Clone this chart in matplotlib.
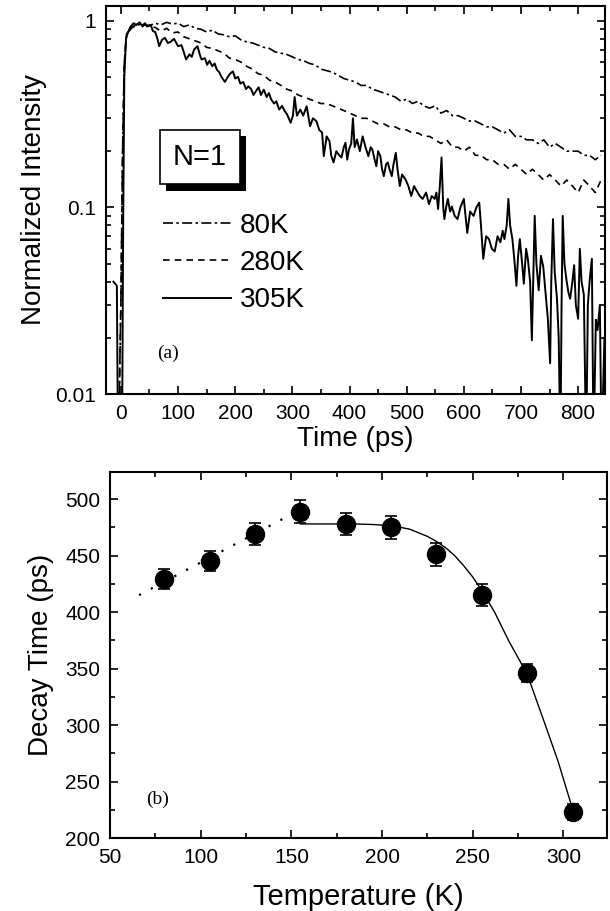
import numpy as np
import matplotlib
matplotlib.use("Agg")
import matplotlib.pyplot as plt
from matplotlib import patheffects
from matplotlib.ticker import MultipleLocator, LogLocator, FixedFormatter, FixedLocator, NullFormatter

plt.rcParams['font.family'] = ['Liberation Sans', 'DejaVu Sans']

# ---- panel (a): time resolved PL, N=1 ----
t_cold = [-20, -10, -4, 0, 3, 6, 10, 20, 30, 40, 50, 60, 70, 80, 90, 100, 110, 120, 130, 140,
          150, 160, 170, 180, 190, 200, 210, 220, 230, 240, 250, 260, 270, 280, 290, 300, 310,
          320, 330, 340, 350, 360, 370, 380, 390, 400, 410, 420, 430, 440, 450, 460, 470, 480,
          490, 500, 510, 520, 530, 540, 550, 560, 570, 580, 590, 600, 610, 620, 630, 640, 650,
          660, 670, 680, 690, 700, 710, 720, 730, 740, 750, 760, 770, 780, 790, 800, 810, 820,
          830, 840]
i_80K = [0.003, 0.004, 0.006, 0.03, 0.2, 0.6, 0.85, 0.92, 0.95, 0.96, 0.94, 0.97, 0.95, 0.98,
         0.96, 0.97, 0.93, 0.95, 0.91, 0.90, 0.87, 0.89, 0.85, 0.84, 0.82, 0.83, 0.79, 0.77,
         0.76, 0.74, 0.72, 0.71, 0.68, 0.67, 0.66, 0.64, 0.62, 0.61, 0.59, 0.58, 0.55, 0.54,
         0.53, 0.51, 0.49, 0.48, 0.47, 0.45, 0.45, 0.43, 0.42, 0.41, 0.40, 0.39, 0.37, 0.38,
         0.36, 0.37, 0.35, 0.34, 0.35, 0.32, 0.33, 0.31, 0.31, 0.30, 0.29, 0.29, 0.28, 0.27,
         0.27, 0.26, 0.25, 0.26, 0.24, 0.24, 0.23, 0.23, 0.22, 0.23, 0.21, 0.22, 0.21, 0.20,
         0.20, 0.20, 0.19, 0.19, 0.18, 0.19]
i_280K = [0.003, 0.004, 0.006, 0.03, 0.2, 0.6, 0.85, 0.93, 0.96, 0.95, 0.93, 0.92, 0.88, 0.91,
          0.86, 0.87, 0.82, 0.80, 0.78, 0.76, 0.72, 0.71, 0.69, 0.67, 0.63, 0.62, 0.60, 0.57,
          0.55, 0.52, 0.51, 0.48, 0.47, 0.45, 0.43, 0.42, 0.40, 0.39, 0.38, 0.37, 0.36, 0.36,
          0.35, 0.34, 0.33, 0.32, 0.31, 0.30, 0.30, 0.29, 0.28, 0.28, 0.27, 0.27, 0.26, 0.26,
          0.25, 0.25, 0.24, 0.24, 0.23, 0.22, 0.23, 0.21, 0.21, 0.20, 0.21, 0.19, 0.19, 0.18,
          0.18, 0.17, 0.17, 0.16, 0.17, 0.16, 0.15, 0.16, 0.15, 0.14, 0.15, 0.14, 0.13, 0.14,
          0.13, 0.12, 0.14, 0.13, 0.12, 0.14]

t_305K = [-13, -7, -5, 2, 4, 6, 9, 12, 17, 22, 27, 33, 38, 42, 46, 52, 56, 60, 64, 67, 72, 77,
          82, 87, 93, 100, 106, 110, 114, 120, 124, 128, 134, 138, 141, 147, 151, 155, 160, 164,
          168, 172, 176, 182, 187, 191, 196, 200, 205, 209, 214, 219, 223, 228, 232, 236, 241,
          245, 250, 255, 259, 263, 268, 272, 277, 282, 286, 291, 297, 301, 304, 308, 314, 319,
          325, 331, 336, 342, 347, 352, 355, 360, 365, 368, 372, 377, 382, 386, 390, 393, 396,
          399, 403, 406, 409, 413, 418, 423, 428, 433, 437, 440, 444, 447, 450, 454, 457, 460,
          464, 467, 470, 474, 477, 481, 484, 488, 492, 498, 503, 508, 513, 518, 523, 528, 534,
          539, 544, 549, 552, 555, 558, 561, 564, 566, 569, 572, 576, 579, 584, 589, 594, 600,
          603, 606, 611, 617, 622, 627, 630, 634, 639, 644, 649, 654, 659, 664, 668, 671, 675,
          678, 681, 685, 689, 692, 695, 698, 702, 705, 709, 712, 716, 719, 722, 724, 727, 731,
          735, 739, 743, 747, 751, 753, 756, 759, 763, 766, 769, 771, 773, 776, 780, 783, 786,
          790, 793, 796, 800, 803, 806, 810, 814, 817, 820, 824, 827, 831, 834, 838, 841, 846]
i_305K = [0.040, 0.038, 0.005, 0.005, 0.08, 0.5, 0.8, 0.86, 0.93, 0.97, 0.95, 0.98, 0.93, 0.97,
          0.93, 0.95, 0.88, 0.87, 0.80, 0.73, 0.79, 0.81, 0.76, 0.77, 0.80, 0.73, 0.74, 0.68,
          0.62, 0.66, 0.64, 0.70, 0.73, 0.66, 0.62, 0.63, 0.58, 0.61, 0.57, 0.59, 0.546, 0.53,
          0.50, 0.47, 0.50, 0.52, 0.535, 0.49, 0.50, 0.46, 0.47, 0.43, 0.445, 0.43, 0.40, 0.418,
          0.44, 0.40, 0.427, 0.39, 0.41, 0.378, 0.36, 0.37, 0.334, 0.35, 0.33, 0.314, 0.284,
          0.31, 0.39, 0.31, 0.334, 0.31, 0.348, 0.272, 0.30, 0.29, 0.26, 0.252, 0.188, 0.24,
          0.226, 0.19, 0.174, 0.20, 0.19, 0.185, 0.21, 0.222, 0.18, 0.204, 0.22, 0.30, 0.21,
          0.231, 0.20, 0.24, 0.21, 0.188, 0.21, 0.204, 0.18, 0.166, 0.20, 0.188, 0.16, 0.147,
          0.17, 0.174, 0.16, 0.147, 0.17, 0.196, 0.16, 0.13, 0.15, 0.141, 0.13, 0.115, 0.13,
          0.122, 0.115, 0.111, 0.12, 0.104, 0.115, 0.111, 0.12, 0.098, 0.13, 0.185, 0.10,
          0.0865, 0.10, 0.111, 0.095, 0.101, 0.09, 0.0865, 0.10, 0.111, 0.09, 0.073, 0.095,
          0.09, 0.10, 0.106, 0.08, 0.053, 0.07, 0.0676, 0.06, 0.058, 0.07, 0.065, 0.075, 0.0676,
          0.08, 0.111, 0.08, 0.0676, 0.05, 0.038, 0.055, 0.0676, 0.05, 0.039, 0.06, 0.053, 0.04,
          0.0194, 0.05, 0.09, 0.05, 0.036, 0.055, 0.048, 0.035, 0.0253, 0.0146, 0.04, 0.0865,
          0.045, 0.0324, 0.02, 0.005, 0.03, 0.09, 0.05, 0.04, 0.035, 0.0324, 0.04, 0.049, 0.03,
          0.0253, 0.06, 0.04, 0.034, 0.005, 0.03, 0.04, 0.053, 0.005, 0.025, 0.022, 0.03, 0.005,
          0.02]

# ---- panel (b): decay time vs temperature ----
temps = [80, 105, 130, 155, 180, 205, 230, 255, 280, 305]
tau = [429, 445, 469, 489, 478, 475, 451, 415, 346, 223]
tau_err = [9, 9, 10, 10, 10, 10, 10, 10, 8, 7]

dot_T = [66, 160]
dot_tau = [415, 495]

fit_T = [155, 170, 185, 195, 205, 215, 225, 230, 235, 240, 245, 250, 255, 262, 270, 280, 290,
         297, 304]
fit_tau = [478, 478, 478, 477.5, 476.5, 473.5, 467, 462.5, 457, 450, 441, 431, 419, 400, 374,
           345, 300, 268, 231]

fig = plt.figure(figsize=(6.1, 9.11), dpi=100)
ax1 = fig.add_axes([0.1738, 0.5675, 0.818, 0.426])
ax2 = fig.add_axes([0.1803, 0.0801, 0.8148, 0.4018])

for ax in (ax1, ax2):
    for s in ax.spines.values():
        s.set_linewidth(1.5)
    ax.tick_params(which='both', direction='in', top=True, right=True, width=1.2,
                   labelsize=15, pad=7)
    ax.tick_params(which='major', length=6)
    ax.tick_params(which='minor', length=3.5)

# panel (a)
ax1.plot(t_cold, i_80K, color='k', lw=1.2, ls=(0, (6, 2, 1.5, 2)), label='80K')
ax1.plot(t_cold, i_280K, color='k', lw=1.2, ls=(0, (4, 3)), label='280K')
ax1.plot(t_305K, i_305K, color='k', lw=1.4, label='305K')
ax1.set_yscale('log')
ax1.set_ylim(0.01, 1.2)
ax1.set_xlim(-26, 847)
ax1.xaxis.set_major_locator(MultipleLocator(100))
ax1.xaxis.set_minor_locator(MultipleLocator(50))
ax1.yaxis.set_major_locator(FixedLocator([0.01, 0.1, 1]))
ax1.yaxis.set_major_formatter(FixedFormatter(['0.01', '0.1', '1']))
ax1.yaxis.set_minor_locator(LogLocator(base=10, subs=np.arange(2, 10)))
ax1.yaxis.set_minor_formatter(NullFormatter())
ax1.set_xlabel('Time (ps)', fontsize=20, labelpad=2)
ax1.set_ylabel('Normalized Intensity', fontsize=20, labelpad=6)

leg = ax1.legend(loc='upper left', bbox_to_anchor=(0.092, 0.495), frameon=False, fontsize=20,
                 handlelength=2.45, handletextpad=0.3, labelspacing=0.4, borderaxespad=0)

nbox = ax1.text(0.188, 0.61, 'N=1', transform=ax1.transAxes, fontsize=21, ha='center',
                va='center',
                bbox=dict(boxstyle='square,pad=0.45', fc='white', ec='k', lw=1.2))
nbox.get_bbox_patch().set_path_effects([
    patheffects.withSimplePatchShadow(offset=(4.5, -4.5), shadow_rgbFace='k', alpha=1.0)])

ax1.text(0.125, 0.105, '(a)', transform=ax1.transAxes, fontsize=14, ha='center', va='center',
         family='Liberation Serif')

# panel (b)
ax2.plot(dot_T, dot_tau, color='k', lw=1.6, ls=(0, (1, 5)))
ax2.plot(fit_T, fit_tau, color='k', lw=1.0)
ax2.errorbar(temps, tau, yerr=tau_err, fmt='o', color='k', ms=13, elinewidth=1.2,
             capsize=4, capthick=1.2)
ax2.set_xlim(50, 324)
ax2.set_ylim(200, 524)
ax2.xaxis.set_major_locator(MultipleLocator(50))
ax2.xaxis.set_minor_locator(MultipleLocator(25))
ax2.yaxis.set_major_locator(MultipleLocator(50))
ax2.yaxis.set_minor_locator(MultipleLocator(25))
ax2.set_xlabel('Temperature (K)', fontsize=21, labelpad=12)
ax2.set_ylabel('Decay Time (ps)', fontsize=20, labelpad=8)
ax2.text(0.095, 0.105, '(b)', transform=ax2.transAxes, fontsize=14, ha='center', va='center',
         family='Liberation Serif')

fig.savefig('out.png', dpi=100)
